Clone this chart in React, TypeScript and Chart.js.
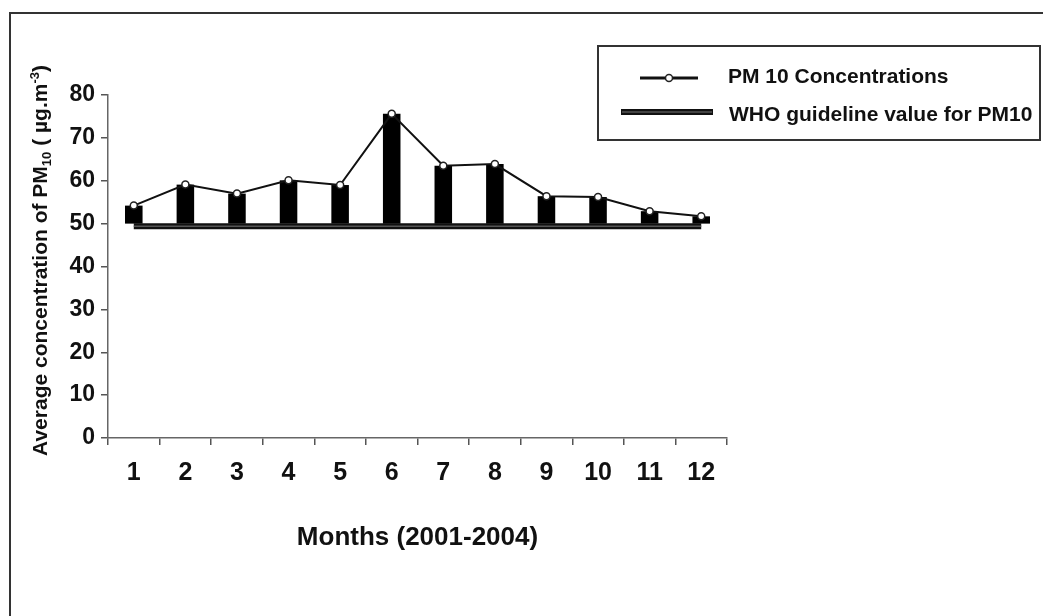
import React, { useEffect, useRef } from "react";
import { Chart, registerables } from "chart.js";

Chart.register(...registerables);

// ---- data ----
const months = ["1", "2", "3", "4", "5", "6", "7", "8", "9", "10", "11", "12"];
const pm10Values = [54.2, 59.1, 57.0, 60.1, 59.0, 75.6, 63.5, 63.9, 56.4, 56.2, 52.9, 51.7];
const barBase = 50;
const whoGuideline = [49.4, 49.4, 49.4, 49.4, 49.4, 49.4, 49.4, 49.4, 49.4, 49.4, 49.4, 49.4];
const legendLabels = ["PM 10 Concentrations", "WHO guideline value for PM10"];
const xTitle = "Months (2001-2004)";
const yTitleParts = [
  { text: "Average concentration of PM", shift: 0 },
  { text: "10", shift: -1 },
  { text: " ( µg.m", shift: 0 },
  { text: "-3", shift: 1 },
  { text: ")", shift: 0 },
];
const yMin = 0;
const yMax = 80;
const yStep = 10;

const FONT = "'Liberation Sans', Arial, Helvetica, sans-serif";

const decorPlugin = {
  id: "decor",
  afterDraw(chart: any) {
    const ctx = chart.ctx as CanvasRenderingContext2D;
    ctx.save();
    // legend box
    ctx.strokeStyle = "#333";
    ctx.lineWidth = 2;
    ctx.strokeRect(598, 46, 442, 94);
    // row 1: line with circle marker
    ctx.strokeStyle = "#111";
    ctx.lineWidth = 3;
    ctx.beginPath();
    ctx.moveTo(640, 78);
    ctx.lineTo(698, 78);
    ctx.stroke();
    ctx.beginPath();
    ctx.arc(669, 78, 3.5, 0, Math.PI * 2);
    ctx.fillStyle = "#fff";
    ctx.fill();
    ctx.lineWidth = 1.5;
    ctx.strokeStyle = "#222";
    ctx.stroke();
    // row 2: thick line
    ctx.strokeStyle = "#111";
    ctx.lineWidth = 6;
    ctx.beginPath();
    ctx.moveTo(621, 112);
    ctx.lineTo(713, 112);
    ctx.stroke();
    ctx.strokeStyle = "#555";
    ctx.lineWidth = 1.5;
    ctx.beginPath();
    ctx.moveTo(622, 112);
    ctx.lineTo(712, 112);
    ctx.stroke();
    // legend text
    ctx.fillStyle = "#111";
    ctx.font = `bold 21px ${FONT}`;
    ctx.textBaseline = "middle";
    ctx.textAlign = "left";
    ctx.fillText(legendLabels[0], 728, 77);
    ctx.fillText(legendLabels[1], 729, 115);

    // y axis title with sub/superscripts
    const size = 21;
    const small = 13;
    const area = chart.chartArea;
    const cy = (area.top + area.bottom) / 2 - 6;
    ctx.translate(47, cy);
    ctx.rotate(-Math.PI / 2);
    let total = 0;
    for (const p of yTitleParts) {
      ctx.font = `bold ${p.shift === 0 ? size : small}px ${FONT}`;
      total += ctx.measureText(p.text).width;
    }
    let x = -total / 2;
    ctx.textBaseline = "alphabetic";
    for (const p of yTitleParts) {
      ctx.font = `bold ${p.shift === 0 ? size : small}px ${FONT}`;
      const dy = p.shift === -1 ? 4 : p.shift === 1 ? -8 : 0;
      ctx.fillText(p.text, x, dy);
      x += ctx.measureText(p.text).width;
    }
    ctx.restore();
  },
};

export default function App() {
  const ref = useRef<HTMLCanvasElement | null>(null);

  useEffect(() => {
    if (!ref.current) return;
    const chart = new Chart(ref.current, {
      type: "bar",
      data: {
        labels: months,
        datasets: [
          {
            type: "line",
            label: legendLabels[0],
            data: pm10Values,
            borderColor: "#111",
            borderWidth: 2,
            pointRadius: 3.5,
            pointBackgroundColor: "#fff",
            pointBorderColor: "#222",
            pointBorderWidth: 1.5,
            tension: 0,
            order: 0,
          } as any,
          {
            type: "line",
            label: "who-core",
            data: whoGuideline,
            borderColor: "#555",
            borderWidth: 1.5,
            pointRadius: 0,
            order: 1,
          } as any,
          {
            type: "line",
            label: legendLabels[1],
            data: whoGuideline,
            borderColor: "#111",
            borderWidth: 6,
            pointRadius: 0,
            order: 2,
          } as any,
          {
            type: "bar",
            label: "bars",
            data: pm10Values.map((v) => [barBase, v]),
            backgroundColor: "#000",
            borderWidth: 0,
            barPercentage: 0.34,
            categoryPercentage: 1,
            order: 3,
          } as any,
        ],
      },
      options: {
        responsive: false,
        animation: false,
        devicePixelRatio: 1,
        layout: { padding: { left: 0, top: 95, right: 316, bottom: 63 } },
        plugins: {
          legend: { display: false },
          tooltip: { enabled: false },
        },
        scales: {
          x: {
            type: "category",
            offset: true,
            grid: {
              offset: true,
              drawOnChartArea: false,
              drawTicks: true,
              tickLength: 7,
              color: "#555",
              lineWidth: 1.5,
            },
            border: { color: "#666", width: 1.5 },
            ticks: {
              font: { family: FONT, size: 25, weight: "bold" },
              color: "#111",
              padding: 13,
              maxRotation: 0,
              autoSkip: false,
            },
            title: {
              display: true,
              text: xTitle,
              font: { family: FONT, size: 26, weight: "bold" },
              color: "#111",
              padding: 0,
            },
            afterFit: (s: any) => {
              s.height = 115;
            },
          },
          y: {
            min: yMin,
            max: yMax,
            grid: {
              drawOnChartArea: false,
              drawTicks: true,
              tickLength: 7,
              color: "#555",
              lineWidth: 1.5,
            },
            border: { color: "#666", width: 1.5 },
            ticks: {
              stepSize: yStep,
              font: { family: FONT, size: 23, weight: "bold" },
              color: "#111",
              padding: 6,
            },
            afterFit: (s: any) => {
              s.width = 108;
            },
          },
        },
      } as any,
      plugins: [decorPlugin],
    });
    return () => chart.destroy();
  }, []);

  return (
    <div style={{ position: "fixed", left: 0, top: 0, width: 1043, height: 616, overflow: "hidden", background: "#fff" }}>
      <div
        style={{
          position: "absolute",
          left: 9,
          top: 12,
          width: 1100,
          height: 700,
          border: "2px solid #333",
          boxSizing: "border-box",
        }}
      />
      <canvas ref={ref} width={1043} height={616} style={{ position: "absolute", left: 0, top: 0, width: 1043, height: 616 }} />
    </div>
  );
}
